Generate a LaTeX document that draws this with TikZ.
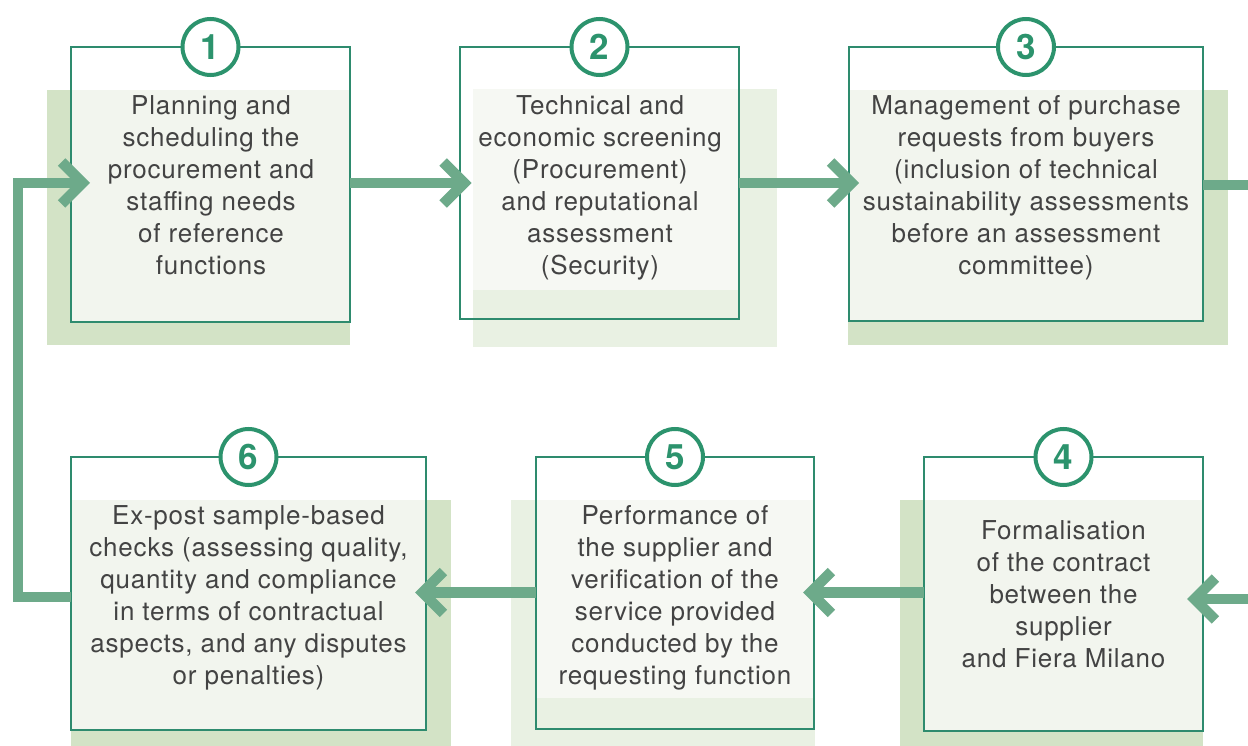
\documentclass[tikz,border=0pt]{standalone}
\usepackage{fontspec}
\setmainfont{TeX Gyre Heros}
\newfontfamily\stepfont[LetterSpace=3]{TeX Gyre Heros}
\usetikzlibrary{arrows.meta}
\definecolor{shadowdark}{HTML}{D3E3C6}
\definecolor{shadowlight}{HTML}{E9F1E3}
\definecolor{overdark}{HTML}{F2F5EE}
\definecolor{overlight}{HTML}{F6F8F3}
\definecolor{boxline}{HTML}{2E8B6E}
\definecolor{circline}{HTML}{2C936D}
\definecolor{arrowgreen}{HTML}{6DAA8A}
\definecolor{txtgray}{HTML}{434343}
\begin{document}
\begin{tikzpicture}[x=1pt,y=-1pt,
  stepbox/.style={draw=boxline,line width=1.2pt,inner sep=0pt,outer sep=0pt},
  steptext/.style={inner sep=0pt,outer sep=0pt,align=center,text=txtgray,
    font=\stepfont\fontsize{26}{32}\selectfont,
    execute at begin node=\strut,execute at end node=\strut},
  numcirc/.style={circle,draw=circline,line width=4pt,fill=white,minimum size=56pt,
    inner sep=0pt,text=circline,font=\fontsize{35}{35}\selectfont\bfseries},
  arr/.style={draw=arrowgreen,line width=10.5pt,line join=miter,
    -{Straight Barb[length=21pt,width=42pt,sharp]}},
  plainarr/.style={draw=arrowgreen,line width=10.5pt,line join=miter}]
\useasboundingbox (0,0) rectangle (1248,746);
% shadows
\fill[shadowdark] (47,90) rectangle (350,345);
\fill[shadowlight] (473,89) rectangle (777,347);
\fill[shadowdark] (848,90) rectangle (1228,345);
\fill[shadowdark] (71,500) rectangle (451,746);
\fill[shadowlight] (511,500) rectangle (815,746);
\fill[shadowdark] (900,500) rectangle (1203,746);
% overlays
\fill[overdark] (71,90) rectangle (350,322);
\fill[overlight] (473,89) rectangle (739,290);
\fill[overdark] (849,90) rectangle (1203,321);
\fill[overdark] (71,500) rectangle (426,730);
\fill[overlight] (536,500) rectangle (814,698);
\fill[overdark] (924,500) rectangle (1203,731);
% boxes
\node[stepbox,minimum width=279pt,minimum height=275pt] (b1) at (210.5,184.5) {};
\node[stepbox,minimum width=279pt,minimum height=272pt] (b2) at (599.5,183) {};
\node[stepbox,minimum width=354pt,minimum height=274pt] (b3) at (1026,184) {};
\node[stepbox,minimum width=355pt,minimum height=273pt] (b6) at (248.5,593.5) {};
\node[stepbox,minimum width=278pt,minimum height=272pt] (b5) at (675,593) {};
\node[stepbox,minimum width=279pt,minimum height=274pt] (b4) at (1063.5,594) {};
% texts
\node[steptext] (x1) at (211,189.6)
  {Planning and\\scheduling the\\procurement and\\staffing needs\\of reference\\functions};
\node[steptext] (x2) at (600,189.6)
  {Technical and\\economic screening\\(Procurement)\\and reputational\\assessment\\(Security)};
\node[steptext] (x3) at (1026,189.6)
  {Management of purchase\\requests from buyers\\(inclusion of technical\\sustainability assessments\\before an assessment\\committee)};
\node[steptext] (x6) at (248.5,599.6)
  {Ex-post sample-based\\checks (assessing quality,\\quantity and compliance\\in terms of contractual\\aspects, and any disputes\\or penalties)};
\node[steptext] (x5) at (675,599.6)
  {Performance of\\the supplier and\\verification of the\\service provided\\conducted by the\\requesting function};
\node[steptext] (x4) at (1063.5,598.6)
  {Formalisation\\of the contract\\between the\\supplier\\and Fiera Milano};
% number circles
\node[numcirc] (n1) at (b1.north) {1};
\node[numcirc] (n2) at (b2.north) {2};
\node[numcirc] (n3) at (b3.north) {3};
\node[numcirc] (n6) at (b6.north) {6};
\node[numcirc] (n5) at (b5.north) {5};
\node[numcirc] (n4) at (b4.north) {4};
% arrow coordinates
\coordinate (t1) at (90,183);
\coordinate (t2) at (471.5,183);
\coordinate (t3) at (859,183);
\coordinate (o3) at (1252,185);
\coordinate (i4) at (1252,599);
\coordinate (t4) at (1187,599);
\coordinate (t5) at (803,592.5);
\coordinate (t6) at (415,592.5);
\coordinate (lc1) at (18,597);
\coordinate (lc2) at (18,183);
% arrows
\draw[arr] (b1.east |- t2) -- (t2);
\draw[arr] (b2.east |- t3) -- (t3);
\draw[plainarr] (b3.east |- o3) -- (o3);
\draw[arr] (i4) -- (t4);
\draw[arr] (b4.west |- t5) -- (t5);
\draw[arr] (b5.west |- t6) -- (t6);
\draw[arr] (b6.west |- lc1) -- (lc1) -- (lc2) -- (t1);
\end{tikzpicture}
\end{document}
